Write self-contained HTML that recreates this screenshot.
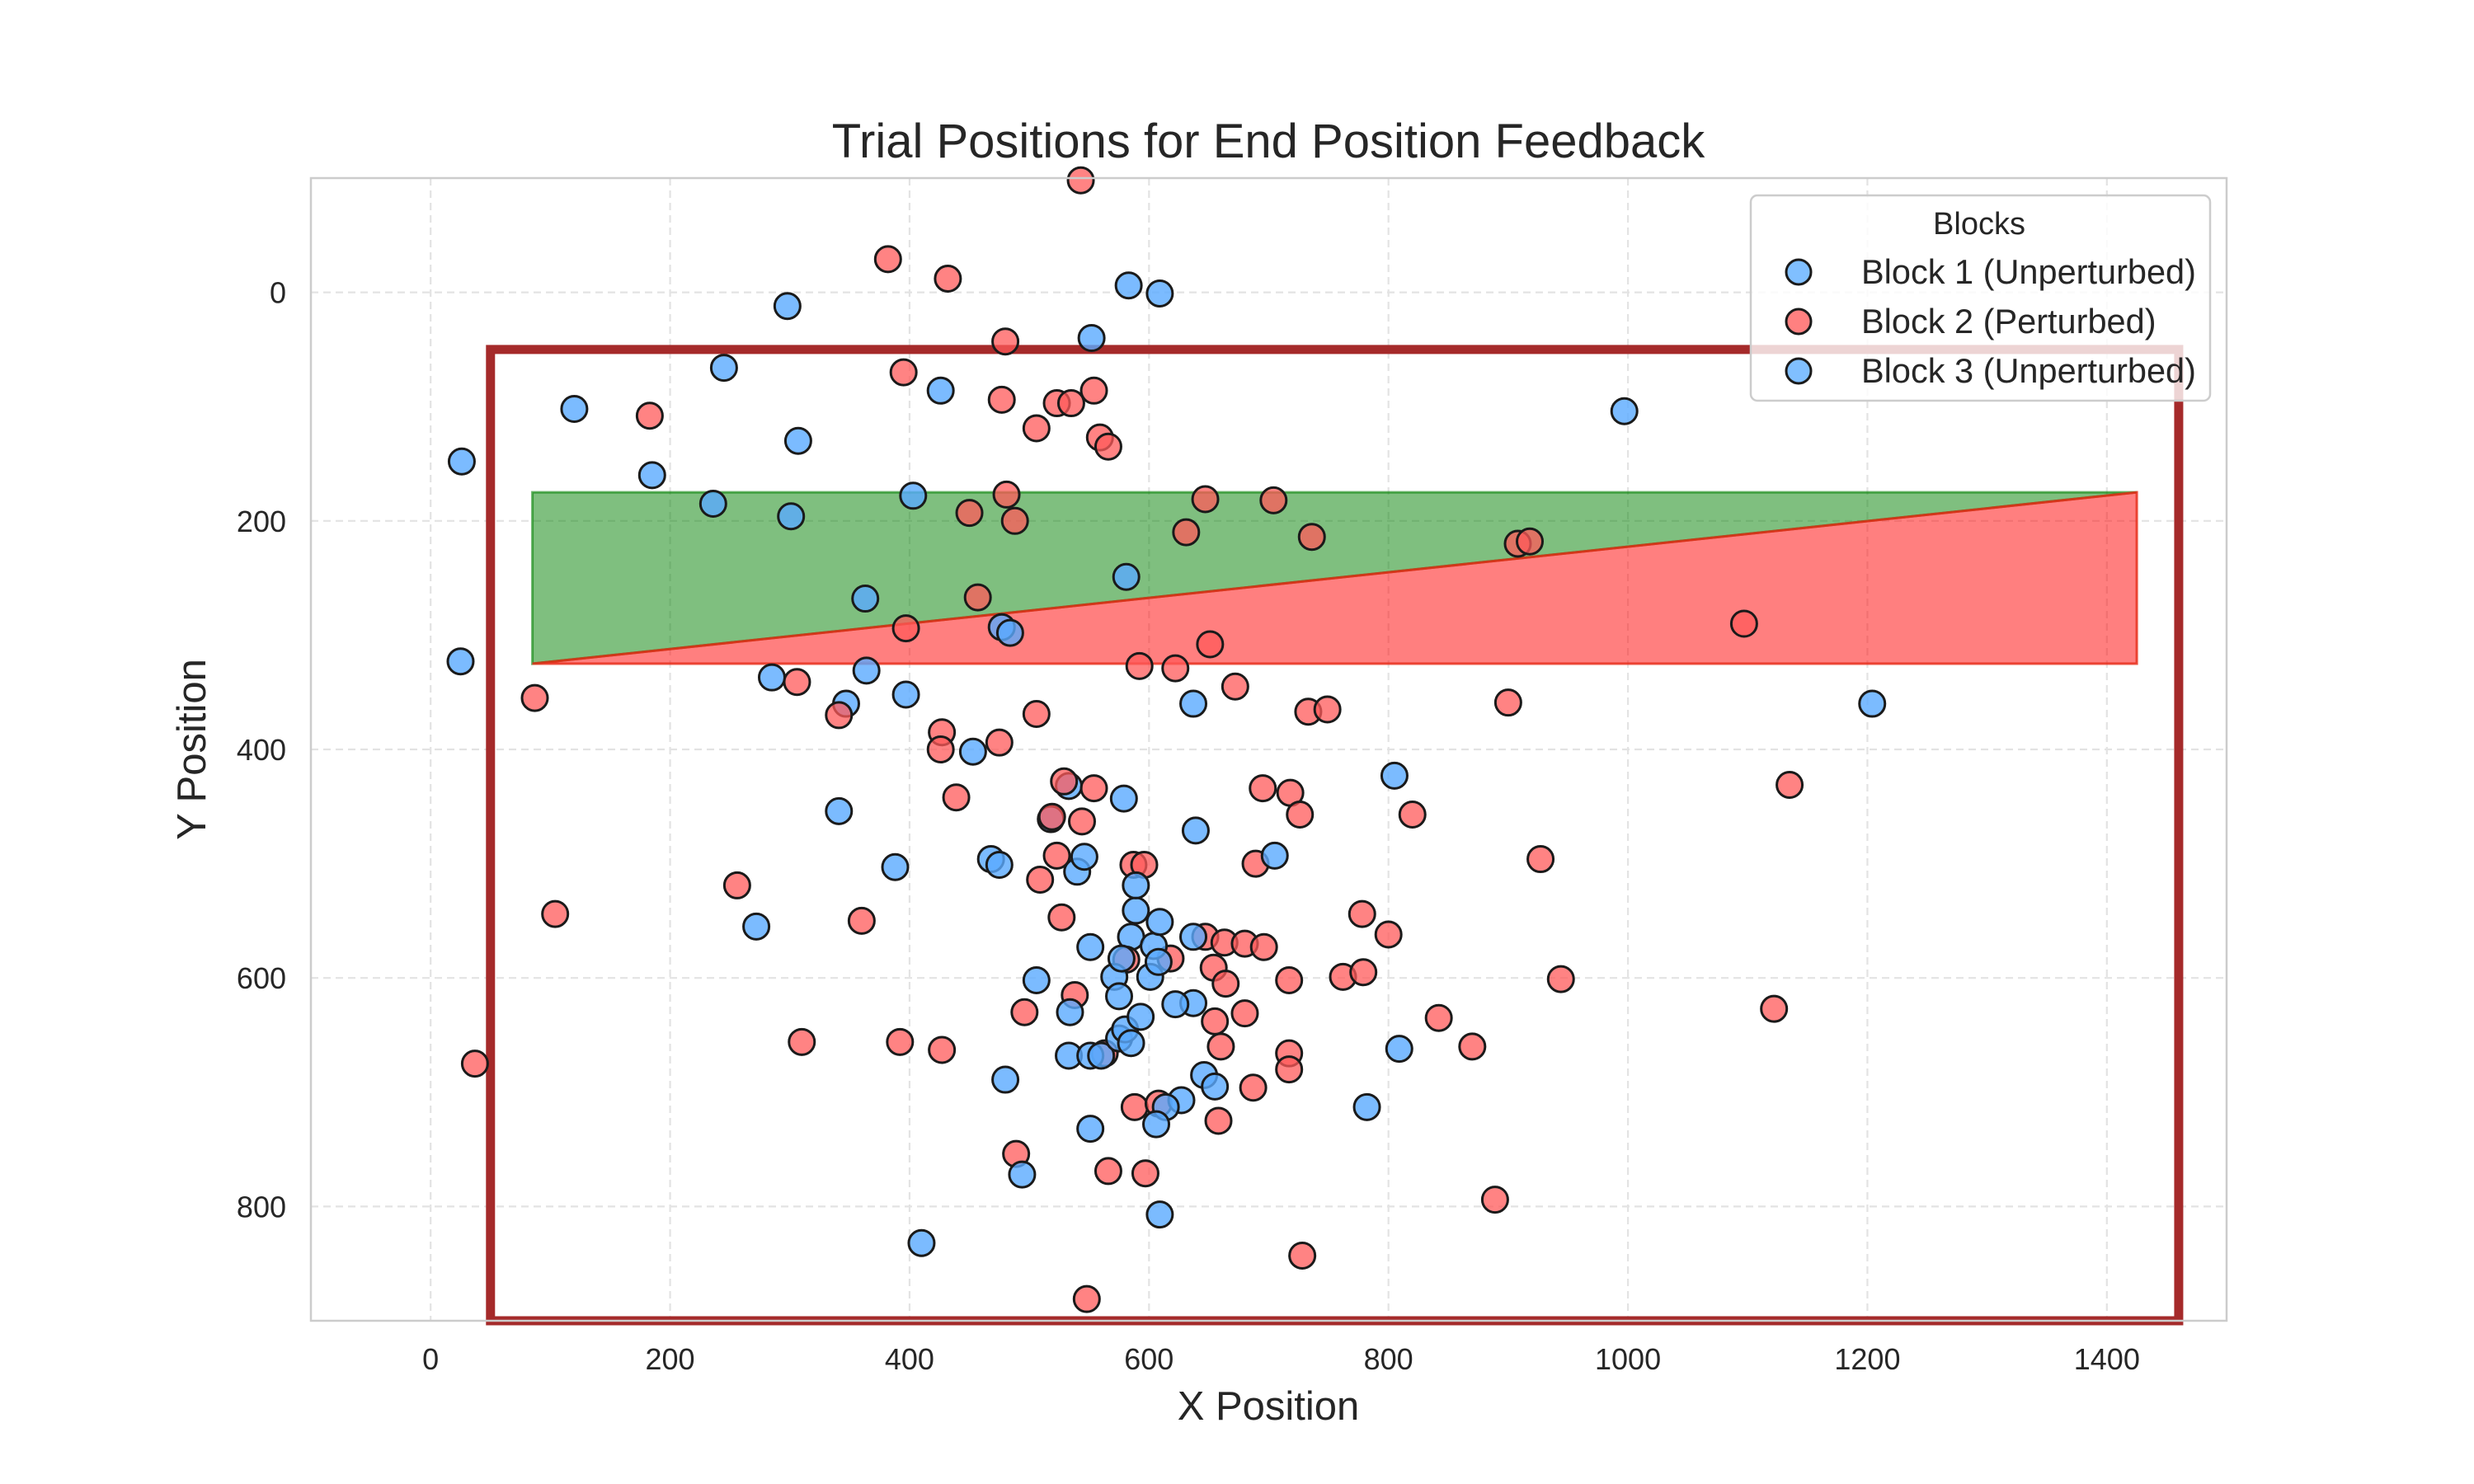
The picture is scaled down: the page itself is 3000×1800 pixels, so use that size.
<!DOCTYPE html>
<html><head><meta charset="utf-8"><style>
html,body{margin:0;padding:0;background:#fff;}
svg{display:block;font-family:"Liberation Sans",sans-serif;}
</style></head><body>
<svg id="chart" width="3000" height="1800" viewBox="0 0 3000 1800" xmlns="http://www.w3.org/2000/svg">
<rect x="0" y="0" width="3000" height="1800" fill="#fff"/>
<text x="1538" y="191" text-anchor="middle" font-size="58" fill="#262626">Trial Positions for End Position Feedback</text>
<text x="1538" y="1722" text-anchor="middle" font-size="49" fill="#262626">X Position</text>
<text x="0" y="0" transform="translate(249,909) rotate(-90)" text-anchor="middle" font-size="49" fill="#262626">Y Position</text>
<g id="grid"></g>
<g id="ticks"></g>
<g id="shapes"></g>
<g id="points"></g>
<rect x="377" y="216" width="2323" height="1386" fill="none" stroke="#cccccc" stroke-width="2.5"/>
<g id="legend">
<rect x="2123" y="237" width="557" height="249" rx="8" fill="#fff" fill-opacity="0.8" stroke="#cccccc" stroke-width="2.5"/>
<text x="2400" y="284" text-anchor="middle" font-size="38" fill="#262626">Blocks</text>
<circle cx="2181" cy="330" r="15" fill="#80bfff" stroke="#1a1a1a" stroke-width="3"/>
<text x="2257" y="344" font-size="41.5" fill="#262626">Block 1 (Unperturbed)</text>
<circle cx="2181" cy="390" r="15" fill="#ff8080" stroke="#1a1a1a" stroke-width="3"/>
<text x="2257" y="404" font-size="41.5" fill="#262626">Block 2 (Perturbed)</text>
<circle cx="2181" cy="450" r="15" fill="#80bfff" stroke="#1a1a1a" stroke-width="3"/>
<text x="2257" y="464" font-size="41.5" fill="#262626">Block 3 (Unperturbed)</text>
</g>
</svg>
<script>
const xTicks = [0,200,400,600,800,1000,1200,1400];
const yTicks = [0,200,400,600,800];
const workspaceRect = [50, 50, 1460, 900];
const feedbackBand = [85, 1425, 175, 325];
const block1X = [26,25,120,185,236,245,298,307,301,285,341,347,363,364,397,403,426,388,272,453,477,484,468,475,518,533,540,546,552,551,583,609,581,579,585];
const block1Y = [148,323,102,160,185,66,12,130,196,337,454,360,268,331,352,178,86,503,555,402,293,298,496,501,461,432,507,494,40,573,-6,1,249,443,564];
const block3X = [589,637,639,637,637,506,534,533,551,560,575,571,575,580,585,589,593,577,601,604,608,609,622,627,614,606,609,646,655,805,705,782,809,997,1204,480,494,410,551];
const block3Y = [541,360,471,564,622,602,630,668,668,668,653,599,616,645,657,519,634,583,599,572,586,551,623,707,713,728,807,685,695,423,493,713,662,104,360,689,772,832,732];
const block2X = [543,382,432,480,395,183,477,506,523,535,554,559,566,450,481,488,647,704,631,736,457,397,651,592,622,306,87,341,427,475,506,672,733,749,900,1097,908,918,426,439,529,519,544,554,695,718,726,820,1135,523,509,587,596,689,927,104,256,360,527,581,618,647,654,663,664,680,696,717,762,779,778,800,944,1122,496,538,655,680,660,563,717,717,842,870,310,392,427,37,588,608,687,658,489,566,597,889,728,548];
const block2Y = [-98,-29,-12,43,70,108,94,119,97,97,86,127,135,193,177,200,181,182,210,214,267,294,308,327,329,341,355,370,385,394,369,345,367,365,359,290,220,218,400,442,428,459,463,434,434,438,457,457,431,493,514,501,501,500,496,544,519,550,547,584,583,564,591,569,605,570,573,602,599,595,544,562,601,627,630,615,638,631,660,666,666,680,635,660,656,656,663,675,713,710,696,725,754,769,771,794,843,881];

const NS = 'http://www.w3.org/2000/svg';
const L = 377, R = 2700, T = 216, B = 1602;
const X0 = -100, X1 = 1500, Y0 = -100, Y1 = 900;
function sx(v){ return L + (v - X0) / (X1 - X0) * (R - L); }
function sy(v){ return T + (v - Y0) / (Y1 - Y0) * (B - T); }
function mk(tag, attrs, parent){
  const e = document.createElementNS(NS, tag);
  for (const k in attrs) e.setAttribute(k, attrs[k]);
  parent.appendChild(e);
  return e;
}
const grid = document.getElementById('grid');
const ticks = document.getElementById('ticks');
xTicks.forEach(function(v){
  const g = mk('line', {x1: sx(v), x2: sx(v), y1: T, y2: B, stroke: '#e3e3e3', 'stroke-width': 2.2, 'stroke-dasharray': '9,6'}, grid);
  
  
  const t = mk('text', {x: sx(v), y: 1661, 'text-anchor': 'middle', 'font-size': 36, fill: '#262626'}, ticks);
  t.textContent = String(v);
  
  
});
yTicks.forEach(function(v){
  const g = mk('line', {x1: L, x2: R, y1: sy(v), y2: sy(v), stroke: '#e3e3e3', 'stroke-width': 2.2, 'stroke-dasharray': '9,6'}, grid);
  
  
  const t = mk('text', {x: 347, y: sy(v) + 13, 'text-anchor': 'end', 'font-size': 36, fill: '#262626'}, ticks);
  t.textContent = String(v);
  
  
});
const shapes = document.getElementById('shapes');
const fx0 = sx(feedbackBand[0]), fx1 = sx(feedbackBand[1]), fyT = sy(feedbackBand[2]), fyB = sy(feedbackBand[3]);
const green = mk('polygon', {points: fx0+','+fyT+' '+fx1+','+fyT+' '+fx0+','+fyB, fill: 'rgba(0,128,0,0.5)', stroke: 'rgba(0,128,0,0.6)', 'stroke-width': 3}, shapes);


const red = mk('polygon', {points: fx0+','+fyB+' '+fx1+','+fyT+' '+fx1+','+fyB, fill: 'rgba(255,0,0,0.5)', stroke: 'rgba(230,40,20,0.8)', 'stroke-width': 3}, shapes);


const wr = mk('rect', {x: sx(workspaceRect[0]), y: sy(workspaceRect[1]), width: sx(workspaceRect[2]) - sx(workspaceRect[0]), height: sy(workspaceRect[3]) - sy(workspaceRect[1]), fill: 'none', stroke: '#a52a2a', 'stroke-width': 11}, shapes);


const pts = document.getElementById('points');
function drawSeries(xs, ys, fill, name){
  for (let i = 0; i < xs.length; i++){
    const c = mk('circle', {cx: sx(xs[i]), cy: sy(ys[i]), r: 15.5, fill: fill, stroke: '#1a1a1a', 'stroke-width': 3}, pts);
    
    
  }
}
drawSeries(block1X, block1Y, 'rgba(90,170,255,0.8)', 'block1-point');
drawSeries(block2X, block2Y, 'rgba(255,90,90,0.75)', 'block2-point');
drawSeries(block3X, block3Y, 'rgba(90,170,255,0.8)', 'block3-point');
</script>
</body></html>
